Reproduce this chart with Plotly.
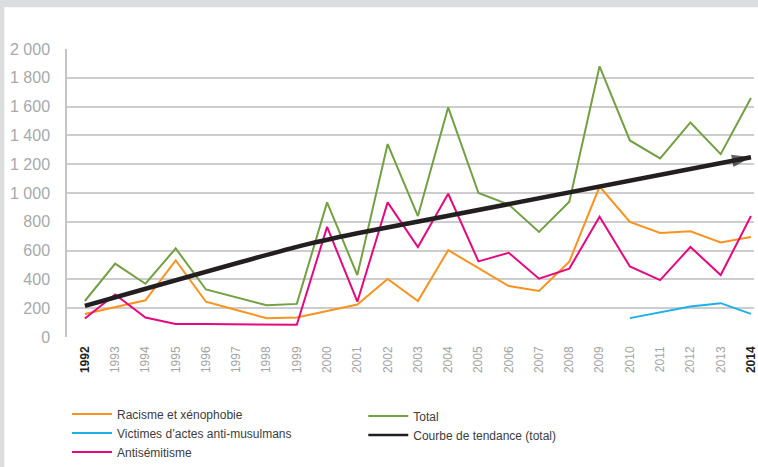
import plotly.graph_objects as go

years = list(range(1992, 2015))
racisme = [160, 210, 255, 532, 245, 188, 131, 136, 180, 225, 403, 250, 603, 480,
           354, 320, 523, 1045, 799, 723, 734, 656, 695]
musulmans_years = [2010, 2011, 2012, 2013, 2014]
musulmans = [131, 170, 212, 235, 161]
antisemitisme = [128, 295, 135, 90, 90, 90, 88, 85, 765, 245, 935, 625, 995, 525,
                 585, 405, 475, 835, 490, 395, 625, 430, 840]
total = [250, 510, 370, 615, 330, 275, 220, 230, 935, 430, 1340, 840, 1595, 1000,
         920, 730, 940, 1880, 1365, 1240, 1490, 1270, 1660]
trend_years = [1992, 1999, 2001, 2014]
trend_values = [216, 626, 720, 1248]

y_tickvals = list(range(0, 2001, 200))
y_ticktext = ["0", "200", "400", "600", "800", "1 000", "1 200", "1 400", "1 600", "1 800", "2 000"]
x_ticktext = [("<b><span style='color:#231f20'>%d</span></b>" % y) if y in (1992, 2014) else str(y)
              for y in years]

C_OR = "#f7931e"
C_BL = "#1cb0e8"
C_PK = "#e5097f"
C_GR = "#72a043"
C_BK = "#231f20"
FONT = "Liberation Sans, Arial, sans-serif"

fig = go.Figure()
fig.add_trace(go.Scatter(x=years, y=racisme, mode="lines", name="Racisme et xénophobie",
                         line=dict(color=C_OR, width=2), legend="legend"))
fig.add_trace(go.Scatter(x=musulmans_years, y=musulmans, mode="lines",
                         name="Victimes d’actes anti-musulmans",
                         line=dict(color=C_BL, width=2), legend="legend"))
fig.add_trace(go.Scatter(x=years, y=antisemitisme, mode="lines", name="Antisémitisme",
                         line=dict(color=C_PK, width=2), legend="legend"))
fig.add_trace(go.Scatter(x=years, y=total, mode="lines", name="Total",
                         line=dict(color=C_GR, width=2), legend="legend2"))
fig.add_trace(go.Scatter(x=trend_years, y=trend_values, mode="lines",
                         name="Courbe de tendance (total)", showlegend=False,
                         line=dict(color=C_BK, width=4.5, shape="spline", smoothing=0.6)))
# legend entry for the trend (thinner swatch as in the reference legend)
fig.add_trace(go.Scatter(x=[None], y=[None], mode="lines",
                         name="Courbe de tendance (total)",
                         line=dict(color=C_BK, width=2.5), legend="legend2"))
fig.add_trace(go.Scatter(x=trend_years[-2:], y=trend_values[-2:], mode="markers",
                         marker=dict(symbol="arrow", angleref="previous", size=[0, 20],
                                     color=C_BK, line=dict(width=0)),
                         showlegend=False, cliponaxis=False, hoverinfo="skip"))

L, T, B = 67, 49, 128
W, H = 758, 467
pw = W - L
ph = H - T - B

fig.add_shape(type="rect", xref="paper", yref="paper",
              x0=(4 - L) / pw, x1=1.5, y0=-1.0, y1=(H - B - 7) / ph,
              fillcolor="white", line=dict(width=0), layer="below")

fig.update_layout(
    width=W, height=H,
    margin=dict(l=L, r=0, t=T, b=B, pad=0),
    paper_bgcolor="#dcdddf",
    plot_bgcolor="white",
    font=dict(family=FONT, color="#3c3c3c"),
    legend=dict(x=0, xanchor="left", y=(H - B - 402) / ph, yanchor="top",
                orientation="v", bgcolor="rgba(0,0,0,0)", itemwidth=40,
                font=dict(size=12, color="#3c3c3c", family=FONT), tracegroupgap=0),
    legend2=dict(x=(365 - L) / pw, xanchor="left", y=(H - B - 404) / ph, yanchor="top",
                 orientation="v", bgcolor="rgba(0,0,0,0)", itemwidth=40,
                 font=dict(size=12, color="#3c3c3c", family=FONT), tracegroupgap=0),
    showlegend=True,
)
fig.update_xaxes(range=[1991.41, 2014.1], tickvals=years, ticktext=x_ticktext,
                 tickangle=-90, showgrid=False, zeroline=False, showline=False,
                 ticks="", ticklabelstandoff=6, ticklabeloverflow="allow",
                 tickfont=dict(size=12, color="#a4a4a4", family=FONT))
fig.update_yaxes(range=[0, 2000], tickvals=y_tickvals, ticktext=y_ticktext,
                 showgrid=True, gridcolor="#cdcdcf", gridwidth=1.5, zeroline=False,
                 showline=True, linecolor="#c4c4c6", linewidth=1.5,
                 ticks="", ticklabelstandoff=12,
                 tickfont=dict(size=16, color="#a7a9ac", family=FONT))

fig.write_html("out.html", config={"displayModeBar": False},
               post_script="document.body.style.margin='0';document.body.style.overflow='hidden';")
